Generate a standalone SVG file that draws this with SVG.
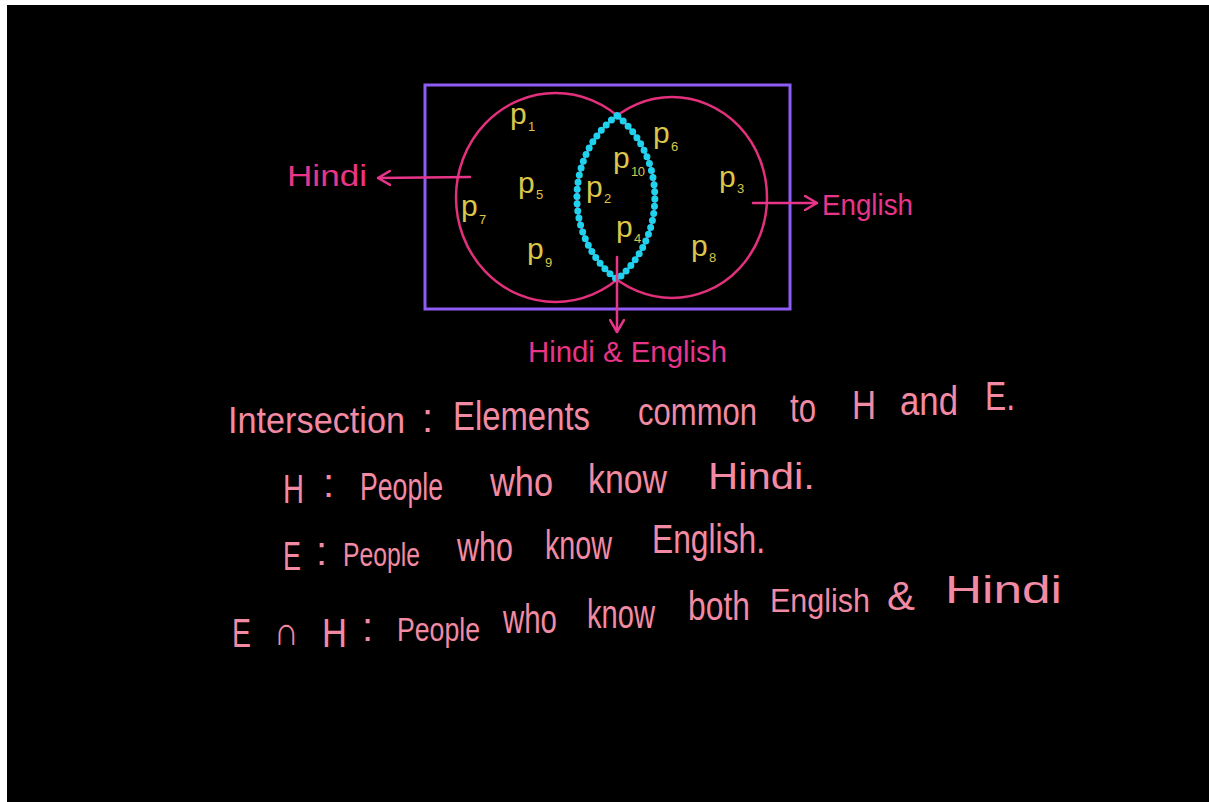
<svg xmlns="http://www.w3.org/2000/svg" width="1209" height="802" viewBox="0 0 1209 802">
  <defs>
    <style>
      .venn { fill: none; stroke: #e3307c; stroke-width: 2.5; }
      .frame { fill: none; stroke: #8f5cf5; stroke-width: 3; }
      .lens { fill: none; stroke: #1fd3ef; stroke-width: 7; stroke-linecap: round; stroke-dasharray: 0 7.2; }
      .pl { fill: #d9c64b; font-family: "Liberation Sans", Arial, sans-serif; font-size: 30px; }
      .ps { fill: #d9c64b; font-family: "Liberation Sans", Arial, sans-serif; font-size: 13px; }
      .lbl { fill: #e8358a; font-family: "Liberation Sans", Arial, sans-serif; font-size: 30px; }
      .txt { fill: #f38aa3; font-family: "Liberation Sans", Arial, sans-serif; font-size: 40px; }
      .conn { fill: none; stroke: #e8358a; stroke-width: 2.5; stroke-linecap: round; }
    </style>
    <marker id="arr" viewBox="0 0 14 16" refX="13" refY="8" markerWidth="14" markerHeight="16" markerUnits="userSpaceOnUse" orient="auto">
      <path d="M1,1 L13,8 L1,15" fill="none" stroke="#e8358a" stroke-width="2.5" stroke-linecap="round" stroke-linejoin="round"/>
    </marker>
  </defs>

  <rect x="0" y="0" width="1209" height="802" fill="#ffffff"/>
  <rect x="7" y="5" width="1202" height="797" fill="#000000"/>

  <g id="universe">
    <rect class="frame" x="425" y="85" width="365" height="224"/>
  </g>

  <g id="hindi-set">
    <ellipse class="venn" cx="555.5" cy="197.5" rx="99.5" ry="104.5"/>
  </g>
  <g id="english-set">
    <ellipse class="venn" cx="672" cy="197.5" rx="95" ry="100.5"/>
  </g>
  <g id="intersection">
    <path class="lens" d="M617,115.5 A95,100.5 0 0 0 617,279.5 A99.5,104.5 0 0 0 617,115.5 Z"/>
  </g>

  <g id="elements">
    <text class="pl" x="510" y="124">p</text><text class="ps" x="528" y="131">1</text>
    <text class="pl" x="518" y="193">p</text><text class="ps" x="536" y="199">5</text>
    <text class="pl" x="461" y="216">p</text><text class="ps" x="479" y="224">7</text>
    <text class="pl" x="527" y="259">p</text><text class="ps" x="545" y="267">9</text>
    <text class="pl" x="586" y="197">p</text><text class="ps" x="604" y="203">2</text>
    <text class="pl" x="613" y="168">p</text><text class="ps" x="631" y="176" textLength="14">10</text>
    <text class="pl" x="616" y="237">p</text><text class="ps" x="634" y="243">4</text>
    <text class="pl" x="653" y="143">p</text><text class="ps" x="671" y="151">6</text>
    <text class="pl" x="719" y="187">p</text><text class="ps" x="737" y="193">3</text>
    <text class="pl" x="691" y="256">p</text><text class="ps" x="709" y="262">8</text>
  </g>

  <g id="connectors">
    <path class="conn" d="M470,177 L378,178" marker-end="url(#arr)"/>
    <path class="conn" d="M753,203 L817,203" marker-end="url(#arr)"/>
    <path class="conn" d="M617,257 L617,332" marker-end="url(#arr)"/>
  </g>

  <g id="label-hindi">
    <text class="lbl" x="287" y="186" textLength="80" lengthAdjust="spacingAndGlyphs">Hindi</text>
  </g>
  <g id="label-english">
    <text class="lbl" x="822" y="215" textLength="91" lengthAdjust="spacingAndGlyphs">English</text>
  </g>
  <g id="label-both">
    <text class="lbl" x="528" y="362" textLength="199" lengthAdjust="spacingAndGlyphs">Hindi &amp; English</text>
  </g>

  <g id="line-intersection">
    <text class="txt" x="228" y="433" style="font-size:36px" textLength="177" lengthAdjust="spacingAndGlyphs">Intersection</text>
    <text class="txt" x="422" y="432">:</text>
    <text class="txt" x="453" y="430" textLength="137" lengthAdjust="spacingAndGlyphs">Elements</text>
    <text class="txt" x="638" y="425" style="font-size:38px" textLength="119" lengthAdjust="spacingAndGlyphs">common</text>
    <text class="txt" x="790" y="422" textLength="26" lengthAdjust="spacingAndGlyphs">to</text>
    <text class="txt" x="852" y="419" textLength="24" lengthAdjust="spacingAndGlyphs">H</text>
    <text class="txt" x="900" y="415" textLength="58" lengthAdjust="spacingAndGlyphs">and</text>
    <text class="txt" x="985" y="410" textLength="30" lengthAdjust="spacingAndGlyphs">E.</text>
  </g>

  <g id="line-h">
    <text class="txt" x="283" y="503" textLength="21" lengthAdjust="spacingAndGlyphs">H</text>
    <text class="txt" x="323" y="497">:</text>
    <text class="txt" x="360" y="500" style="font-size:38px" textLength="83" lengthAdjust="spacingAndGlyphs">People</text>
    <text class="txt" x="490" y="496" textLength="63" lengthAdjust="spacingAndGlyphs">who</text>
    <text class="txt" x="588" y="493" textLength="79" lengthAdjust="spacingAndGlyphs">know</text>
    <text class="txt" x="708" y="489" style="font-size:36px" textLength="107" lengthAdjust="spacingAndGlyphs">Hindi.</text>
  </g>

  <g id="line-e">
    <text class="txt" x="283" y="570" textLength="18" lengthAdjust="spacingAndGlyphs">E</text>
    <text class="txt" x="316" y="565">:</text>
    <text class="txt" x="343" y="566" style="font-size:34px" textLength="77" lengthAdjust="spacingAndGlyphs">People</text>
    <text class="txt" x="457" y="561" textLength="56" lengthAdjust="spacingAndGlyphs">who</text>
    <text class="txt" x="545" y="559" textLength="67" lengthAdjust="spacingAndGlyphs">know</text>
    <text class="txt" x="652" y="553" textLength="113" lengthAdjust="spacingAndGlyphs">English.</text>
  </g>

  <g id="line-eh">
    <text class="txt" x="232" y="647" textLength="19" lengthAdjust="spacingAndGlyphs">E</text>
    <text class="txt" x="274" y="645" textLength="25" lengthAdjust="spacingAndGlyphs">∩</text>
    <text class="txt" x="322" y="647" textLength="25" lengthAdjust="spacingAndGlyphs">H</text>
    <text class="txt" x="362" y="641">:</text>
    <text class="txt" x="397" y="641" style="font-size:33px" textLength="83" lengthAdjust="spacingAndGlyphs">People</text>
    <text class="txt" x="503" y="633" textLength="54" lengthAdjust="spacingAndGlyphs">who</text>
    <text class="txt" x="587" y="628" textLength="68" lengthAdjust="spacingAndGlyphs">know</text>
    <text class="txt" x="688" y="620" textLength="62" lengthAdjust="spacingAndGlyphs">both</text>
    <text class="txt" x="770" y="612" style="font-size:34px" textLength="100" lengthAdjust="spacingAndGlyphs">English</text>
    <text class="txt" x="887" y="610" textLength="28" lengthAdjust="spacingAndGlyphs">&amp;</text>
    <text class="txt" x="945" y="603" style="font-size:38px" textLength="117" lengthAdjust="spacingAndGlyphs">Hindi</text>
  </g>
</svg>
